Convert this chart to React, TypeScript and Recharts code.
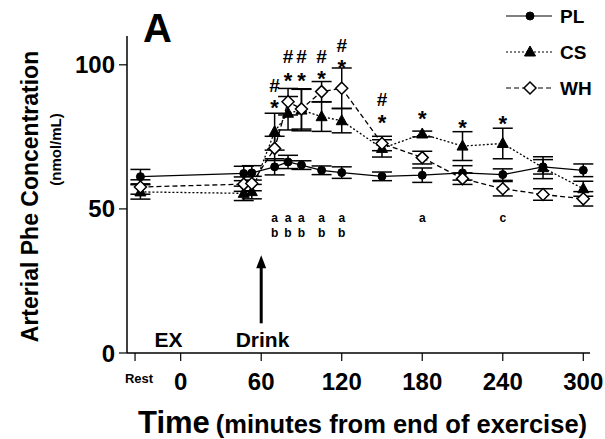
import React from 'react';
import {
  ComposedChart,
  Line,
  XAxis,
  YAxis,
  ErrorBar,
  Scatter,
  ReferenceLine,
  Legend
} from 'recharts';

const FONT = 'Liberation Sans, Arial, Helvetica, sans-serif';

// time points (min from end of exercise); first one is the "Rest" sample
const times = [-30, 47, 53, 70, 80, 90, 105, 120, 150, 180, 210, 240, 270, 300];

const plValues = [61.2, 62.3, 62.5, 64.6, 66.3, 65.2, 63.4, 62.6, 61.3, 61.7, 62.5, 61.9, 64.6, 63.4];
const plErrors = [2.5, 2.5, 2.5, 2.8, 2.3, 1.5, 1.5, 2.0, 1.5, 2.5, 2.5, 2.0, 2.5, 2.2];

const csValues = [55.9, 55.4, 56.0, 76.8, 83.2, 84.3, 82.0, 80.6, 71.0, 76.0, 71.8, 72.7, 64.3, 57.0];
const csErrors = [2.5, 2.5, 2.5, 6.4, 5.8, 7.2, 5.1, 4.2, 3.0, 1.0, 5.0, 5.3, 3.8, 2.6];

const whValues = [57.6, 58.6, 58.8, 71.0, 87.2, 84.7, 90.7, 91.9, 72.7, 67.8, 60.5, 57.0, 55.0, 53.5];
const whErrors = [2.5, 2.5, 2.5, 4.2, 4.6, 7.0, 3.5, 7.0, 2.5, 2.2, 2.0, 2.5, 2.0, 2.5];

const xTicks = [-34, 0, 60, 120, 180, 240, 300];
const yTicks = [0, 50, 100];

// significance marks
const hashTimes = [70, 80, 90, 105, 120, 150];
const hashLevels = [92.8, 102.6, 102.6, 102.6, 106.6, 87.9];
const starTimes = [70, 80, 90, 105, 120, 150, 180, 210, 240];
const starLevels = [87.2, 96.5, 96.5, 97.2, 101.1, 82.0, 83.2, 80.3, 81.5];
const aTimes = [70, 80, 90, 105, 120, 180];
const bTimes = [70, 80, 90, 105, 120];
const cTimes = [240];
const letterRowA = 46.8;
const letterRowB = 41.6;

const noteTexts = ['EX', 'Drink'];
const noteTimes = [-9, 61];
const noteLevel = 4.8;

const drinkTime = 60;
const arrowFrom = 10.3;
const arrowTo = 33.9;

const rows = times.map((t, i) => ({
  t,
  pl: plValues[i],
  plErr: plErrors[i],
  cs: csValues[i],
  csErr: csErrors[i],
  wh: whValues[i],
  whErr: whErrors[i]
}));

const hashMarks = hashTimes.map((t, i) => ({ t, v: hashLevels[i], s: '#' }));
const starMarks = starTimes.map((t, i) => ({ t, v: starLevels[i], s: '*' }));
const letterMarks = [
  ...aTimes.map(t => ({ t, v: letterRowA, s: 'a' })),
  ...bTimes.map(t => ({ t, v: letterRowB, s: 'b' })),
  ...cTimes.map(t => ({ t, v: letterRowA, s: 'c' }))
];
const noteMarks = noteTexts.map((s, i) => ({ t: noteTimes[i], v: noteLevel, s }));

const CircleMark = ({ cx, cy }: any) => <circle cx={cx} cy={cy} r={4} fill="#000" stroke="#000" />;

const TriangleMark = ({ cx, cy }: any) => (
  <polygon points={`${cx},${cy - 6} ${cx + 5.5},${cy + 4} ${cx - 5.5},${cy + 4}`} fill="#000" stroke="#000" />
);

const DiamondMark = ({ cx, cy }: any) => (
  <polygon
    points={`${cx},${cy - 6} ${cx + 6},${cy} ${cx},${cy + 6} ${cx - 6},${cy}`}
    fill="#fff"
    stroke="#000"
    strokeWidth={1.5}
  />
);

const TextMark = (props: any) => {
  const { cx, cy, payload } = props;
  const s = payload.s;
  let size = 12;
  let shift = 4;
  if (s === '#') { size = 19; shift = 6; }
  if (s === '*') { size = 22; shift = 13; }
  if (s === 'EX' || s === 'Drink') { size = 21; shift = 8; }
  return (
    <text x={cx} y={cy + shift} textAnchor="middle" fontSize={size} fontWeight="bold" fontFamily={FONT} fill="#000">
      {s}
    </text>
  );
};

const ArrowShape = (props: any) => {
  const { x1, y1, x2, y2 } = props;
  const top = Math.min(y1, y2);
  const bottom = Math.max(y1, y2);
  return (
    <g>
      <line x1={x1} y1={bottom} x2={x2} y2={top + 10} stroke="#000" strokeWidth={3} />
      <polygon points={`${x1},${top} ${x1 + 5},${top + 13} ${x1 - 5},${top + 13}`} fill="#000" />
    </g>
  );
};

const XTick = ({ x, y, payload }: any) => {
  if (payload.value === xTicks[0]) {
    return (
      <text x={x + 4} y={y + 10} textAnchor="middle" fontSize={13} fontWeight="bold" fontFamily={FONT} fill="#000">
        Rest
      </text>
    );
  }
  return (
    <text x={x} y={y + 17} textAnchor="middle" fontSize={24} fontWeight="bold" fontFamily={FONT} fill="#000">
      {payload.value}
    </text>
  );
};

const YTitle = ({ viewBox }: any) => {
  const cy = viewBox.y + viewBox.height / 2;
  return (
    <g fontFamily={FONT} fontWeight="bold" fill="#000">
      <text x={143} y={42} fontSize={40}>A</text>
      <text transform={`translate(38, ${cy + 2}) rotate(-90)`} textAnchor="middle" fontSize={23}>
        Arterial Phe Concentration
      </text>
      <text transform={`translate(61, ${cy - 45}) rotate(-90)`} textAnchor="middle" fontSize={15}>
        (nmol/mL)
      </text>
    </g>
  );
};

const XTitle = () => (
  <text x={138} y={433} fontFamily={FONT} fontWeight="bold" fill="#000">
    <tspan fontSize={31}>Time</tspan>
    <tspan fontSize={25.5} dx={6}>(minutes from end of exercise)</tspan>
  </text>
);

const legendItems = [
  { name: 'PL', dash: undefined, Mark: CircleMark },
  { name: 'CS', dash: '2 2', Mark: TriangleMark },
  { name: 'WH', dash: '5 3', Mark: DiamondMark }
];

const LegendBox = () => (
  <svg width={125} height={105}>
    {legendItems.map((item, i) => {
      const y = 16 + i * 36;
      const { Mark } = item;
      return (
        <g key={item.name}>
          <line x1={26} y1={y} x2={72} y2={y} stroke="#000" strokeWidth={1.2} strokeDasharray={item.dash} />
          <Mark cx={50} cy={y} />
          <text x={80} y={y + 7} fontSize={19} fontWeight="bold" fontFamily={FONT} fill="#000">
            {item.name}
          </text>
        </g>
      );
    })}
  </svg>
);

export default function App() {
  return (
    <div style={{ position: 'absolute', left: 0, top: 0, background: '#fff' }}>
      <ComposedChart
        width={605}
        height={439}
        data={rows}
        margin={{ top: 36, right: 15, bottom: 0, left: 0 }}
      >
        <XAxis
          dataKey="t"
          type="number"
          domain={[-40, 305]}
          ticks={xTicks}
          interval={0}
          height={86}
          tickSize={8}
          tickMargin={12}
          tick={<XTick />}
          axisLine={{ stroke: '#000', strokeWidth: 1.5 }}
          tickLine={{ stroke: '#000', strokeWidth: 1.2 }}
          label={<XTitle />}
        />
        <YAxis
          type="number"
          domain={[0, 110]}
          ticks={yTicks}
          interval={0}
          width={127}
          tickSize={8}
          tickMargin={4}
          tick={{ fontSize: 24, fontWeight: 'bold', fill: '#000', fontFamily: FONT }}
          axisLine={{ stroke: '#000', strokeWidth: 1.5 }}
          tickLine={{ stroke: '#000', strokeWidth: 1.2 }}
          label={<YTitle />}
        />
        <Legend
          layout="vertical"
          align="center"
          verticalAlign="middle"
          content={() => <LegendBox />}
          wrapperStyle={{ left: 480, top: 0, width: 125, height: 105 }}
        />
        <ReferenceLine
          segment={[{ x: drinkTime, y: arrowFrom }, { x: drinkTime, y: arrowTo }]}
          shape={<ArrowShape />}
        />
        <Line
          dataKey="pl"
          type="linear"
          stroke="#000"
          strokeWidth={1.3}
          dot={(p: any) => <CircleMark key={`pl-${p.index}`} cx={p.cx} cy={p.cy} />}
          isAnimationActive={false}
        >
          <ErrorBar dataKey="plErr" width={10} stroke="#000" strokeWidth={1.5} direction="y" />
        </Line>
        <Line
          dataKey="cs"
          type="linear"
          stroke="#000"
          strokeWidth={1.3}
          strokeDasharray="2 2"
          dot={(p: any) => <TriangleMark key={`cs-${p.index}`} cx={p.cx} cy={p.cy} />}
          isAnimationActive={false}
        >
          <ErrorBar dataKey="csErr" width={10} stroke="#000" strokeWidth={1.5} direction="y" />
        </Line>
        <Line
          dataKey="wh"
          type="linear"
          stroke="#000"
          strokeWidth={1.3}
          strokeDasharray="5 3"
          dot={(p: any) => <DiamondMark key={`wh-${p.index}`} cx={p.cx} cy={p.cy} />}
          isAnimationActive={false}
        >
          <ErrorBar dataKey="whErr" width={10} stroke="#000" strokeWidth={1.5} direction="y" />
        </Line>
        <Scatter data={hashMarks} dataKey="v" shape={TextMark} isAnimationActive={false} />
        <Scatter data={starMarks} dataKey="v" shape={TextMark} isAnimationActive={false} />
        <Scatter data={letterMarks} dataKey="v" shape={TextMark} isAnimationActive={false} />
        <Scatter data={noteMarks} dataKey="v" shape={TextMark} isAnimationActive={false} />
      </ComposedChart>
    </div>
  );
}
